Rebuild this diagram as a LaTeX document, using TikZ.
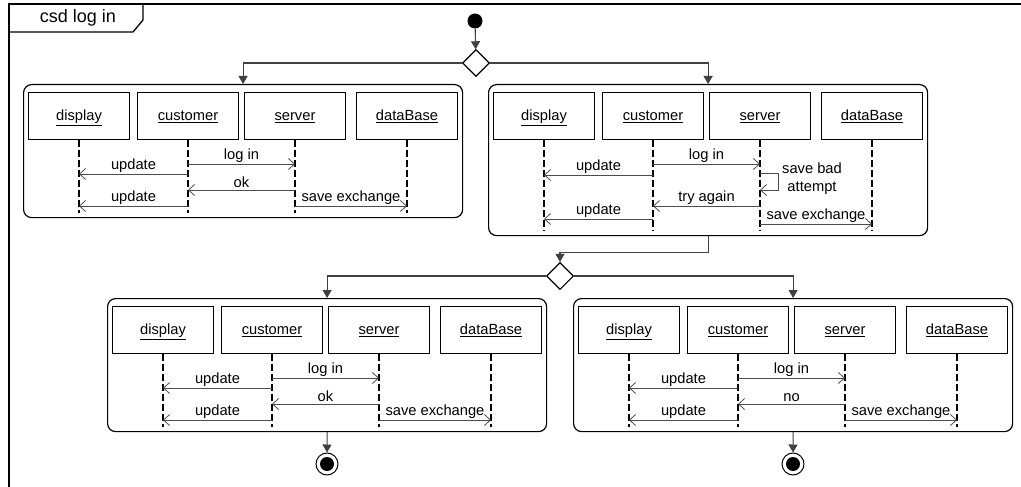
\documentclass[tikz,border=0pt]{standalone}
\usepackage{fontspec}
\setmainfont{Liberation Sans}
\usetikzlibrary{arrows.meta,positioning,shapes.geometric}

\tikzset{
  frame/.style={line width=1.3pt},
  panel/.style={draw, rounded corners=8pt, line width=1.2pt, minimum width=439pt, anchor=north west, inner sep=0pt},
  lifebox/.style={draw, line width=0.9pt, minimum width=101pt, minimum height=47pt, anchor=north, inner sep=0pt,
    text height=12pt, text depth=2pt, font=\fontsize{14.7}{17}\selectfont},
  lifeline/.style={line width=1.4pt, dash pattern=on 7pt off 3pt},
  msg/.style={line width=0.8pt, draw=black!70, -{Straight Barb[length=6pt,width=11pt]}},
  lbl/.style={above, inner sep=1.5pt, font=\fontsize{14.7}{17}\selectfont},
  flow/.style={line width=1.1pt, draw=black!75, -{Triangle[length=8pt,width=9pt]}},
  initial/.style={circle, fill, inner sep=0pt, minimum size=15pt},
  decision/.style={diamond, draw, line width=1.1pt, inner sep=0pt, minimum width=27pt, minimum height=27pt},
  final/.style={circle, draw, line width=1pt, inner sep=0pt, minimum size=22pt,
    path picture={\fill (path picture bounding box.center) circle (7pt);}},
}

\begin{document}
\begin{tikzpicture}[x=1pt, y=-1pt]
  \useasboundingbox (0,0) rectangle (1021,487);

  % frame
  \draw[frame] (9,487) -- (9,4) -- (1021,4);
  \draw[frame] (9,32) -- (133,32) -- (143,20) -- (143,4);
  \node[font=\fontsize{18}{21}\selectfont] (title) at (78,18) {csd log in};

  % control nodes
  \node[initial] (start) at (475,21) {};
  \node[decision] (d1) at (476,63) {};
  \node[decision] (d2) at (560,276) {};

  % first try, accepted
  \begin{scope}[shift={(23,84)}]
    \node[panel, minimum height=133pt] (p1) at (0,0) {};
    \foreach \n/\x/\t in {disp/56/display, cust/165/customer, serv/272/server, db/384/dataBase} {
      \node[lifebox] (p1\n) at (\x,8) {\underline{\t}};
      \draw[lifeline] (p1\n.south) -- ++(0,73);
    }
    \foreach \a/\b/\y/\t in {cust/serv/80/log in, cust/disp/90/update, serv/cust/106/ok,
                             cust/disp/122/update, serv/db/122/save exchange} {
      \draw[msg] (p1\a |- 0,\y) -- node[lbl] {\t} (p1\b |- 0,\y);
    }
  \end{scope}

  % first try, refused
  \begin{scope}[shift={(488,84)}]
    \node[panel, minimum height=151pt] (p2) at (0,0) {};
    \foreach \n/\x/\t in {disp/56/display, cust/165/customer, serv/272/server, db/384/dataBase} {
      \node[lifebox] (p2\n) at (\x,8) {\underline{\t}};
      \draw[lifeline] (p2\n.south) -- ++(0,91);
    }
    \foreach \a/\b/\y/\t in {cust/serv/80/log in, cust/disp/91/update, serv/cust/122/try again,
                             cust/disp/135/update, serv/db/140/save exchange} {
      \draw[msg] (p2\a |- 0,\y) -- node[lbl] {\t} (p2\b |- 0,\y);
    }
    \draw[msg] (p2serv |- 0,89) -- ++(18,0) -- ++(0,17) -- (p2serv |- 0,106);
    \node[align=center, inner sep=0pt, font=\fontsize{14.7}{18}\selectfont] (bad) at (324,95) {save bad\\attempt};
  \end{scope}

  % second try, accepted
  \begin{scope}[shift={(107,298)}]
    \node[panel, minimum height=133pt] (p3) at (0,0) {};
    \foreach \n/\x/\t in {disp/56/display, cust/165/customer, serv/272/server, db/384/dataBase} {
      \node[lifebox] (p3\n) at (\x,8) {\underline{\t}};
      \draw[lifeline] (p3\n.south) -- ++(0,73);
    }
    \foreach \a/\b/\y/\t in {cust/serv/80/log in, cust/disp/90/update, serv/cust/106/ok,
                             cust/disp/122/update, serv/db/122/save exchange} {
      \draw[msg] (p3\a |- 0,\y) -- node[lbl] {\t} (p3\b |- 0,\y);
    }
  \end{scope}

  % second try, refused
  \begin{scope}[shift={(573,298)}]
    \node[panel, minimum height=133pt] (p4) at (0,0) {};
    \foreach \n/\x/\t in {disp/56/display, cust/165/customer, serv/272/server, db/384/dataBase} {
      \node[lifebox] (p4\n) at (\x,8) {\underline{\t}};
      \draw[lifeline] (p4\n.south) -- ++(0,73);
    }
    \foreach \a/\b/\y/\t in {cust/serv/80/log in, cust/disp/90/update, serv/cust/106/no,
                             cust/disp/122/update, serv/db/122/save exchange} {
      \draw[msg] (p4\a |- 0,\y) -- node[lbl] {\t} (p4\b |- 0,\y);
    }
  \end{scope}

  \node[final] (f1) at (327,464) {};
  \node[final] (f2) at (793,464) {};

  % control flow
  \draw[flow] (start) -- (d1);
  \draw[flow] (d1.west) -| (p1.north);
  \draw[flow] (d1.east) -| (p2.north);
  \draw[flow] (p2.south) -- ++(0,16) -| (d2.north);
  \draw[flow] (d2.west) -| (p3.north);
  \draw[flow] (d2.east) -| (p4.north);
  \draw[flow] (p3.south) -- (f1);
  \draw[flow] (p4.south) -- (f2);
\end{tikzpicture}
\end{document}
